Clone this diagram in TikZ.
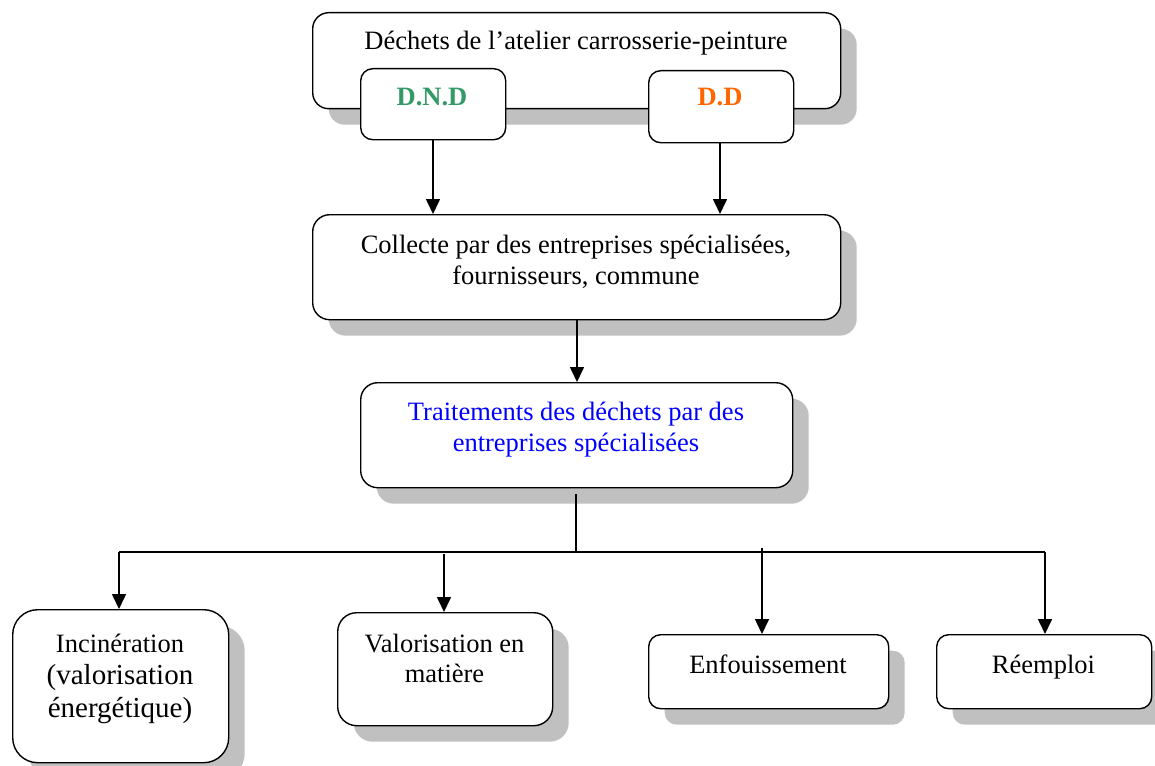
\documentclass[tikz,border=0pt]{standalone}
\usepackage{fontspec}
\setmainfont{Liberation Serif}
\usetikzlibrary{arrows.meta,shadows}
\definecolor{shgray}{RGB}{192,192,192}
\definecolor{dndgreen}{RGB}{51,153,102}
\definecolor{ddorange}{RGB}{255,102,0}
\definecolor{trblue}{RGB}{0,0,255}
\begin{document}
\begin{tikzpicture}[x=1pt,y=-1pt,
  box/.style={draw=black, fill=white, line width=1.4pt, inner sep=0pt, anchor=north west},
  shbox/.style={box, general shadow={fill=shgray, shadow xshift=16pt, shadow yshift=-16pt}},
  lbl/.style={anchor=base, inner sep=0pt, font=\fontsize{26.5}{31}\selectfont},
  lblbig/.style={anchor=base, inner sep=0pt, font=\fontsize{29}{33}\selectfont},
  conn/.style={line width=1.6pt},
  arr/.style={conn, -{Triangle[width=14pt,length=15pt]}}]
\useasboundingbox (0,0) rectangle (1155,765);

% boxes
\node[shbox, rounded corners=16pt, minimum width=528pt, minimum height=96pt] (top) at (312,12) {};
\node[box, rounded corners=12pt, minimum width=145pt, minimum height=71pt] (dnd) at (360,68) {};
\node[box, rounded corners=12pt, minimum width=145pt, minimum height=72pt] (dd) at (648,70) {};
\node[shbox, rounded corners=17pt, minimum width=528pt, minimum height=105pt] (col) at (312,214) {};
\node[shbox, rounded corners=17pt, minimum width=432pt, minimum height=105pt] (tr) at (360,382) {};
\node[shbox, rounded corners=25pt, minimum width=216pt, minimum height=153pt] (inc) at (12,609) {};
\node[shbox, rounded corners=19pt, minimum width=215pt, minimum height=113pt] (val) at (337,612) {};
\node[shbox, rounded corners=12pt, minimum width=240pt, minimum height=74pt] (enf) at (648,634) {};
\node[shbox, rounded corners=12pt, minimum width=215pt, minimum height=74pt] (ree) at (936,634) {};

% texts
\node[lbl] (ttop) at (576,50) {Déchets de l’atelier carrosserie-peinture};
\node[lbl, font=\fontsize{26.5}{31}\selectfont\bfseries, text=dndgreen] (tdnd) at (432,106) {D.N.D};
\node[lbl, font=\fontsize{26.5}{31}\selectfont\bfseries, text=ddorange] (tdd) at (720,106) {D.D};
\node[lbl] (tcol1) at (576,253) {Collecte par des entreprises spécialisées,};
\node[lbl] (tcol2) at (576,284) {fournisseurs, commune};
\node[lbl, text=trblue] (ttr1) at (576,420) {Traitements des déchets par des};
\node[lbl, text=trblue] (ttr2) at (576,451) {entreprises spécialisées};
\node[lbl] (tinc1) at (120,652) {Incinération};
\node[lblbig] (tinc2) at (120,684) {(valorisation};
\node[lblbig] (tinc3) at (120,717) {énergétique)};
\node[lbl] (tval1) at (444.5,652) {Valorisation en};
\node[lbl] (tval2) at (444.5,682) {matière};
\node[lbl] (tenf) at (768,673) {Enfouissement};
\node[lbl] (tree) at (1043.5,673) {Réemploi};

% connectors
\coordinate (j) at (576,552);
\coordinate (jl) at (119,552);
\coordinate (jr) at (1045,552);
\coordinate (v0) at (444,554);
\coordinate (e0) at (762,548);
\coordinate (trs) at (576,494);
\draw[arr] (433,139) coordinate (dnds) -- (dnds |- col.north);
\draw[arr] (720,142) coordinate (dds) -- (dds |- col.north);
\draw[arr] (col.south -| 577,0) coordinate (cols) -- (cols |- tr.north);
\draw[conn] (trs) -- (j);
\draw[conn] (jl) -- (jr);
\draw[arr] (jl) -- (jl |- inc.north);
\draw[arr] (v0) -- (v0 |- val.north);
\draw[arr] (e0) -- (e0 |- enf.north);
\draw[arr] (jr) -- (jr |- ree.north);
\end{tikzpicture}
\end{document}
